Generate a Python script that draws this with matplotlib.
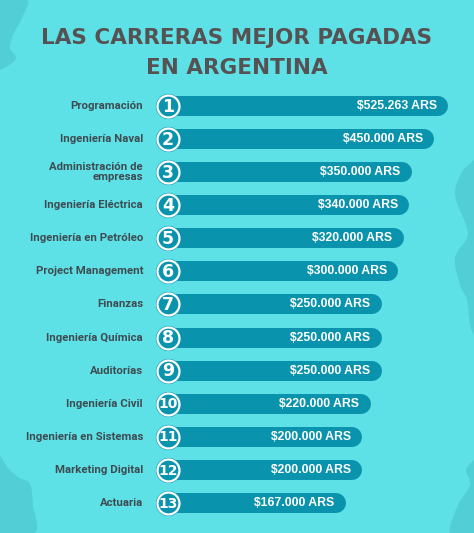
import numpy as np
import matplotlib.pyplot as plt
from matplotlib.path import Path
from matplotlib.patches import PathPatch

# Data
carreras = ['Programación', 'Ingeniería Naval', 'Administración de\nempresas',
            'Ingeniería Eléctrica', 'Ingeniería en Petróleo', 'Project Management',
            'Finanzas', 'Ingeniería Química', 'Auditorías', 'Ingeniería Civil',
            'Ingeniería en Sistemas', 'Marketing Digital', 'Actuaria']
salarios = [525263, 450000, 350000, 340000, 320000, 300000,
            250000, 250000, 250000, 220000, 200000, 200000, 167000]
etiquetas = ['$525.263 ARS', '$450.000 ARS', '$350.000 ARS', '$340.000 ARS',
             '$320.000 ARS', '$300.000 ARS', '$250.000 ARS', '$250.000 ARS',
             '$250.000 ARS', '$220.000 ARS', '$200.000 ARS', '$200.000 ARS',
             '$167.000 ARS']
titulo = 'LAS CARRERAS MEJOR PAGADAS\nEN ARGENTINA'

BG = '#5ee1e6'
BLOB = '#52cfd6'
BAR = '#0a93ac'
TXT = '#3e4c52'

W, H = 474, 533
fig = plt.figure(figsize=(W / 100, H / 100), dpi=100)
fig.patch.set_facecolor(BG)

# decorative background shapes (pixel coords)
deco = fig.add_axes([0, 0, 1, 1])
deco.set_xlim(0, W)
deco.set_ylim(H, 0)
deco.axis('off')

def blob(pts):
    pts = np.array(pts, float)
    n = len(pts)
    verts = [pts[0]]
    codes = [Path.MOVETO]
    for i in range(1, n):
        p0, p1 = pts[i - 1], pts[i]
        prev = pts[i - 2] if i >= 2 else p0
        nxt = pts[i + 1] if i + 1 < n else p1
        c1 = p0 + (p1 - prev) / 6
        c2 = p1 - (nxt - p0) / 6
        verts += [c1, c2, p1]
        codes += [Path.CURVE4] * 3
    verts.append(pts[0])
    codes.append(Path.CLOSEPOLY)
    deco.add_patch(PathPatch(Path(verts, codes), fc=BLOB, ec='none'))

blob([(0, 0), (27, 0), (22, 18), (13, 35), (10, 48), (16, 58), (8, 66), (0, 70)])
blob([(474, 160), (462, 172), (455, 195), (466, 225), (467, 238), (455, 258),
      (460, 285), (467, 300), (470, 325), (474, 335)])
blob([(0, 455), (8, 468), (18, 477), (30, 484), (33, 505), (35, 533), (0, 533)])
blob([(474, 460), (466, 470), (470, 485), (458, 505), (450, 533), (474, 533)])

# main axes: x in ARS on a log scale, y in rows
ax = fig.add_axes([0, 0, 1, 1])
ax.set_facecolor('none')
ax.axis('off')
ax.set_xscale('log')
k, a = 89.0, -734.2                 # pixel = a + k * ln(value)

def px(p):
    return np.exp((p - a) / k)

ax.set_xlim(px(0), px(W))
row_top, row_gap = 106, 33.08
ax.set_ylim(12 + (H - row_top - 12 * row_gap) / row_gap, -row_top / row_gap)

y = np.arange(len(salarios))
xstart = px(168)
ax.hlines(y, xstart, salarios, colors=BAR, linewidth=14.4, capstyle='round', zorder=2)

ax.scatter(np.full(len(y), xstart), y, s=330, color=BAR, zorder=3, linewidths=0)
ax.scatter(np.full(len(y), xstart), y, s=250, color=BAR, edgecolors='white',
           linewidths=1.6, zorder=4)
for i in y:
    num = str(i + 1)
    ax.text(xstart, i + 0.02, num, color='white', fontweight='bold',
            fontsize=12.5 if len(num) == 1 else 10, ha='center', va='center',
            family='DejaVu Sans', zorder=5)
    ax.text(px(143), i, carreras[i], color=TXT, fontweight='bold', fontsize=8.2,
            ha='right', va='center', family='Roboto', linespacing=1.05)
    ax.annotate(etiquetas[i], (salarios[i], i), xytext=(-1, 0),
                textcoords='offset points', color='white', fontweight='bold',
                fontsize=8.8, ha='right', va='center', family='Liberation Sans',
                zorder=5)

fig.text(0.5, 1 - 53 / H, titulo, ha='center', va='center', color='#565152',
         fontsize=15.5, fontweight='bold', family='DejaVu Sans', linespacing=1.6)

fig.savefig('out.png', dpi=100, facecolor=BG)
